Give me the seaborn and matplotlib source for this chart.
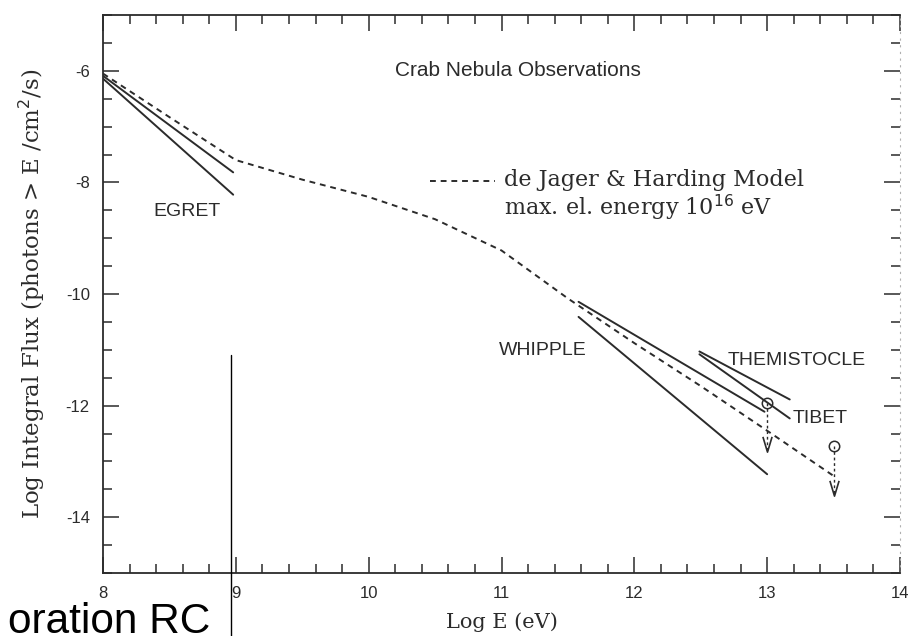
import matplotlib
matplotlib.use("Agg")
import matplotlib.pyplot as plt
from matplotlib.ticker import MultipleLocator
from matplotlib.path import Path
import seaborn as sns

# de Jager & Harding model: log10 E (eV) vs log10 integral flux
model_logE = [8.0, 8.5, 9.0, 9.5, 10.0, 10.5, 11.0, 11.5, 12.0, 12.5, 13.0, 13.5]
model_flux = [-6.05, -6.83, -7.60, -7.95, -8.26, -8.66, -9.22, -10.08, -10.88, -11.65, -12.45, -13.26]

# Power-law fits of each experiment (segment end points)
egret_logE = [8.0, 8.98]
egret_upper = [-6.09, -7.82]
egret_lower = [-6.14, -8.22]
whipple_upper_logE = [11.58, 12.98]
whipple_upper = [-10.14, -12.11]
whipple_lower_logE = [11.58, 13.0]
whipple_lower = [-10.41, -13.23]
themistocle_logE = [12.49, 13.17]
themistocle_flux = [-11.03, -11.89]
tibet_logE = [12.49, 13.17]
tibet_flux = [-11.08, -12.23]

# Upper limits: measured point and arrow tip
limit_logE = [13.0, 13.5]
limit_flux = [-11.96, -12.72]
limit_tip = [-12.83, -13.62]

x_ticks = [8, 9, 10, 11, 12, 13, 14]
y_ticks = [-14, -12, -10, -8, -6]

sns.set_theme(style="ticks")
plt.rcParams["font.family"] = ["Liberation Sans", "DejaVu Sans"]
plt.rcParams["axes.unicode_minus"] = False

ink = "#2b2b2b"
serif = ["DejaVu Serif"]

fig = plt.figure(figsize=(9.12, 6.36), dpi=100)
ax = fig.add_axes([103 / 912, 1 - 573 / 636, (900 - 103) / 912, (573 - 15) / 636])

line_kw = dict(color=ink, linewidth=1.4, sort=False, estimator=None, legend=False, ax=ax)
sns.lineplot(x=egret_logE, y=egret_upper, **line_kw)
sns.lineplot(x=egret_logE, y=egret_lower, **line_kw)
sns.lineplot(x=whipple_upper_logE, y=whipple_upper, **line_kw)
sns.lineplot(x=whipple_lower_logE, y=whipple_lower, **line_kw)
sns.lineplot(x=themistocle_logE, y=themistocle_flux, **line_kw)
sns.lineplot(x=tibet_logE, y=tibet_flux, **line_kw)

sns.lineplot(x=model_logE, y=model_flux, **line_kw)
ax.lines[-1].set_dashes((3, 2.5))

# Upper limits: open circle, dashed drop line, open chevron head
chevron = Path([(-0.6, 1), (0, -1), (0.6, 1)], [Path.MOVETO, Path.LINETO, Path.LINETO])
for xv, yv, tip in zip(limit_logE, limit_flux, limit_tip):
    ax.plot([xv, xv], [yv, tip], color=ink, linewidth=1.0, dashes=(2, 2))
    ax.plot([xv], [yv], marker="o", markersize=7.5, fillstyle="none",
            markeredgecolor=ink, markeredgewidth=1.1, linestyle="none")
    ax.plot([xv], [tip + 0.14], marker=chevron, markersize=11, fillstyle="none",
            markeredgecolor=ink, markeredgewidth=1.2, linestyle="none")

# Key for the model curve
ax.plot([10.46, 10.95], [-7.98, -7.98], color=ink, linewidth=1.4, dashes=(3, 2.5))
ax.text(11.02, -7.95, "de Jager & Harding Model", family=serif, fontsize=16,
        color=ink, ha="left", va="center")
ax.text(11.02, -8.45, r"max. el. energy 10$^{16}$ eV", family=serif, fontsize=16,
        color=ink, ha="left", va="center")

ax.text(11.12, -6.0, "Crab Nebula Observations", fontsize=15, color=ink,
        ha="center", va="center")
ax.text(8.63, -8.52, "EGRET", fontsize=14, color=ink, ha="center", va="center")
ax.text(11.31, -11.02, "WHIPPLE", fontsize=14, color=ink, ha="center", va="center")
ax.text(13.22, -11.19, "THEMISTOCLE", fontsize=14, color=ink, ha="center", va="center")
ax.text(13.40, -12.23, "TIBET", fontsize=14, color=ink, ha="center", va="center")

ax.set_xlim(8, 14)
ax.set_ylim(-15, -5)
ax.set_xticks(x_ticks)
ax.set_yticks(y_ticks)
ax.xaxis.set_minor_locator(MultipleLocator(0.2))
ax.yaxis.set_minor_locator(MultipleLocator(0.5))
ax.tick_params(which="both", direction="in", top=True, right=True, color=ink,
               width=1.1, labelsize=12, labelcolor=ink, pad=9.5)
ax.tick_params(which="major", length=11.5)
ax.tick_params(which="minor", length=6.5)
for t in ax.yaxis.get_major_ticks() + ax.yaxis.get_minor_ticks():
    t.tick2line.set_color("#8a8a8a")

for side in ["left", "bottom", "top"]:
    ax.spines[side].set_color(ink)
    ax.spines[side].set_linewidth(1.3)
ax.spines["right"].set_color("#b0b0b0")
ax.spines["right"].set_linewidth(0.8)
ax.spines["right"].set_linestyle((0, (1, 5)))

ax.set_xlabel("Log E (eV)", family=serif, fontsize=15, color=ink)
ax.set_ylabel(r"Log Integral Flux (photons > E /cm$^2$/s)", family=serif,
              fontsize=16.5, color=ink)
ax.xaxis.set_label_coords(0.5, -0.07)
ax.yaxis.set_label_coords(-0.07, 0.5)

# Slide overlay: cut-off caption text and a divider line
fig.text(210 / 912, 3 / 636, "oration RC", fontsize=30.5, color="black",
         ha="right", va="baseline", family=["Liberation Sans"])
fig.add_artist(plt.Line2D([231 / 912, 231 / 912], [0, 1 - 355 / 636],
                          color="black", linewidth=1.0))

fig.savefig("out.png", dpi=100, facecolor="white")
